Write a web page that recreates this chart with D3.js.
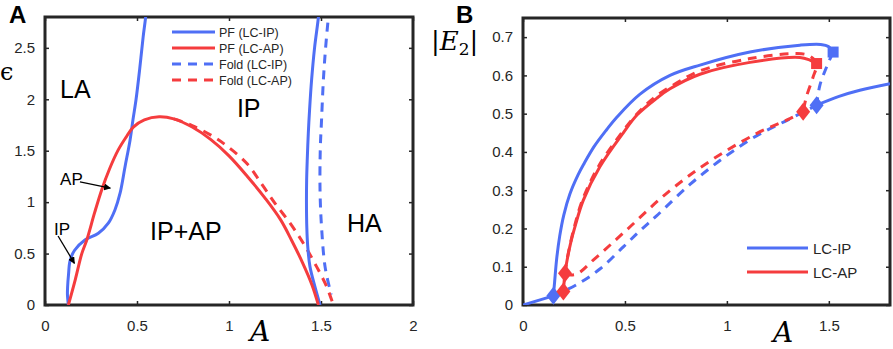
<!DOCTYPE html>
<html>
<head>
<meta charset="utf-8">
<script src="https://cdn.jsdelivr.net/npm/d3@7"></script>
<style>
  body { margin: 0; background: #fff; }
  svg { display: block; font-family: "Liberation Sans", Arial, sans-serif; }
</style>
</head>
<body>
<script>
// ---------- data, panel A (A, epsilon) ----------
const pfIPLeft = [[0.127,0],[0.122,0.1],[0.123,0.18],[0.128,0.3],[0.136,0.43],[0.16,0.53],[0.217,0.632],[0.29,0.697],[0.344,0.795],[0.38,0.924],[0.408,1.087],[0.435,1.345],[0.462,1.6],[0.478,1.8],[0.495,2.0],[0.515,2.3],[0.533,2.6],[0.547,2.8],[0.552,2.9]];
const pfIPRight = [[1.49,2.9],[1.486,2.8],[1.465,2.5],[1.449,2.19],[1.438,1.9],[1.431,1.67],[1.425,1.4],[1.422,1.216],[1.421,1.0],[1.423,0.75],[1.428,0.567],[1.44,0.373],[1.467,0.178],[1.495,0]];
const pfAP = [[0.127,0],[0.165,0.25],[0.2,0.5],[0.227,0.632],[0.27,0.9],[0.308,1.119],[0.35,1.32],[0.398,1.508],[0.44,1.63],[0.48,1.73],[0.54,1.8],[0.62,1.83],[0.7,1.81],[0.8,1.73],[0.9,1.61],[1.0,1.45],[1.1,1.25],[1.2,1.03],[1.28,0.83],[1.34,0.63],[1.4,0.41],[1.45,0.2],[1.486,0]];
const foldIP = [[1.545,2.9],[1.54,2.8],[1.525,2.5],[1.513,2.19],[1.503,1.8],[1.496,1.51],[1.495,1.087],[1.504,0.73],[1.522,0.373],[1.549,0.146],[1.555,0.1]];
const foldAP = [[0.7,1.81],[0.8,1.745],[0.915,1.637],[1.0,1.53],[1.1,1.37],[1.18,1.17],[1.25,0.989],[1.332,0.795],[1.404,0.6],[1.476,0.373],[1.531,0.178],[1.567,0]];
const ticksAx = [0, 0.5, 1, 1.5, 2];
const ticksAy = [0, 0.5, 1, 1.5, 2, 2.5];
const legendA = ["PF (LC-IP)", "PF (LC-AP)", "Fold (LC-IP)", "Fold (LC-AP)"];
const regionsA = [["LA",0.082,2.01],["IP",1.043,1.83],["IP+AP",0.571,0.632],["HA",1.641,0.71]];

// ---------- data, panel B (A, |E2|) ----------
const ipEq = [[0,0],[0.149,0.024]];
const ipStable = [[0.149,0.024],[0.155,0.06],[0.165,0.12],[0.18,0.18],[0.2,0.235],[0.23,0.29],[0.27,0.34],[0.3,0.37],[0.35,0.415],[0.41,0.458],[0.459,0.49],[0.574,0.551],[0.721,0.6],[0.868,0.627],[1.113,0.661],[1.358,0.679],[1.46,0.681],[1.5,0.675],[1.521,0.661]];
const ipUnstTop = [[1.521,0.661],[1.489,0.622],[1.456,0.574],[1.44,0.522]];
const ipUnstLow = [[0.149,0.024],[0.263,0.053],[0.377,0.094],[0.492,0.152],[0.574,0.194],[0.655,0.233],[0.819,0.315],[0.982,0.384],[1.145,0.442],[1.3,0.484],[1.44,0.522]];
const ipUpper = [[1.44,0.522],[1.55,0.545],[1.652,0.561],[1.8,0.578]];
const apStable = [[0.198,0.035],[0.206,0.083],[0.218,0.122],[0.235,0.165],[0.255,0.205],[0.296,0.274],[0.377,0.361],[0.492,0.45],[0.56,0.497],[0.655,0.54],[0.721,0.565],[0.868,0.603],[1.113,0.634],[1.358,0.647],[1.407,0.64],[1.44,0.631]];
const apUnstTop = [[0.206,0.083],[0.22,0.13],[0.25,0.2],[0.29,0.272],[0.37,0.362],[0.48,0.447],[0.55,0.494],[0.639,0.54],[0.753,0.58],[0.868,0.612],[1.113,0.644],[1.342,0.657],[1.40,0.652],[1.44,0.631],[1.423,0.596],[1.39,0.544],[1.374,0.505]];
const apUnstLow = [[0.206,0.08],[0.26,0.08],[0.35,0.12],[0.508,0.196],[0.7,0.29],[0.9,0.37],[1.145,0.448],[1.309,0.487],[1.374,0.505]];
const ipDiamonds = [[0.149,0.024],[1.44,0.522]];
const apDiamonds = [[0.198,0.035],[0.206,0.083],[1.374,0.505]];
const ipSquares = [[1.521,0.661]];
const apSquares = [[1.44,0.631]];
const ticksBx = [0, 0.5, 1, 1.5];
const ticksBy = [0, 0.1, 0.2, 0.3, 0.4, 0.5, 0.6, 0.7];
const legendB = ["LC-IP", "LC-AP"];

const BLUE = "#4f6ff5", RED = "#f53c3e", INK = "#262626";

const svg = d3.select("body").append("svg")
    .attr("width", 893)
    .attr("height", 349);

// flecha para las anotaciones
svg.append("defs").append("marker")
    .attr("id", "arrow")
    .attr("viewBox", "0 0 10 10")
    .attr("refX", 9).attr("refY", 5)
    .attr("markerWidth", 7).attr("markerHeight", 7)
    .attr("markerUnits", "userSpaceOnUse")
    .attr("orient", "auto")
    .append("path").attr("d", "M0,0L10,5L0,10z").attr("fill", "#000");

// escalas
const xA = d3.scaleLinear().domain([0, 2]).range([45, 413]);
const yA = d3.scaleLinear().domain([0, 2.8]).range([305, 17]);
const xB = d3.scaleLinear().domain([0, 1.8]).range([523, 890]);
const yB = d3.scaleLinear().domain([0, 0.75]).range([305, 18]);

function frame(x, y, tx, ty, id) {
    const [x0, x1] = x.range(), [y0, y1] = y.range();
    svg.append("clipPath").attr("id", id)
        .append("rect").attr("x", x0).attr("y", y1).attr("width", x1 - x0).attr("height", y0 - y1);

    const styleAxis = g => {
        g.select(".domain").remove();
        g.selectAll("line").attr("stroke", INK).attr("stroke-width", 1.5);
        g.selectAll("text").attr("fill", INK).attr("font-size", 15);
    };
    svg.append("g").attr("transform", `translate(0,${y0})`)
        .call(d3.axisBottom(x).tickValues(tx).tickFormat(d3.format("")).tickSize(-4).tickPadding(15)).call(styleAxis);
    svg.append("g").attr("transform", `translate(0,${y1})`)
        .call(d3.axisTop(x).tickValues(tx).tickFormat("").tickSize(-4)).call(styleAxis);
    svg.append("g").attr("transform", `translate(${x0},0)`)
        .call(d3.axisLeft(y).tickValues(ty).tickFormat(d3.format("")).tickSize(-4).tickPadding(10)).call(styleAxis);
    svg.append("g").attr("transform", `translate(${x1},0)`)
        .call(d3.axisRight(y).tickValues(ty).tickFormat("").tickSize(-4)).call(styleAxis);

    svg.append("rect")
        .attr("x", x0).attr("y", y1).attr("width", x1 - x0).attr("height", y0 - y1)
        .attr("fill", "none").attr("stroke", INK).attr("stroke-width", 3);
}

function curve(x, y, data, color, dashed, clip) {
    const line = d3.line().x(d => x(d[0])).y(d => y(d[1])).curve(d3.curveCatmullRom.alpha(0.5));
    svg.append("path")
        .datum(data)
        .attr("clip-path", `url(#${clip})`)
        .attr("d", line)
        .attr("fill", "none")
        .attr("stroke", color)
        .attr("stroke-width", 3)
        .attr("stroke-dasharray", dashed ? "9,7" : null);
}

// ---------- Panel A ----------
frame(xA, yA, ticksAx, ticksAy, "clipA");
curve(xA, yA, foldIP, BLUE, true, "clipA");
curve(xA, yA, foldAP, RED, true, "clipA");
curve(xA, yA, pfIPLeft, BLUE, false, "clipA");
curve(xA, yA, pfIPRight, BLUE, false, "clipA");
curve(xA, yA, pfAP, RED, false, "clipA");

// nombres de regiones
svg.selectAll(".region")
    .data(regionsA)
    .enter().append("text")
    .attr("x", d => xA(d[1]))
    .attr("y", d => yA(d[2]))
    .attr("font-size", 25)
    .attr("fill", "#000")
    .text(d => d[0]);

// anotaciones AP / IP con flechas
svg.append("text").attr("x", xA(0.082)).attr("y", yA(1.167)).attr("font-size", 17).text("AP");
svg.append("line")
    .attr("x1", xA(0.19)).attr("y1", yA(1.196)).attr("x2", xA(0.355)).attr("y2", yA(1.136))
    .attr("stroke", "#000").attr("stroke-width", 1.3).attr("marker-end", "url(#arrow)");
svg.append("text").attr("x", xA(0.049)).attr("y", yA(0.681)).attr("font-size", 17).text("IP");
svg.append("line")
    .attr("x1", xA(0.071)).attr("y1", yA(0.671)).attr("x2", xA(0.16)).attr("y2", yA(0.405))
    .attr("stroke", "#000").attr("stroke-width", 1.3).attr("marker-end", "url(#arrow)");

// leyenda A
const legA = svg.append("g");
legendA.forEach((name, i) => {
    const yy = 32 + i * 16;
    legA.append("line")
        .attr("x1", 172).attr("x2", 215).attr("y1", yy).attr("y2", yy)
        .attr("stroke", i % 2 === 0 ? BLUE : RED)
        .attr("stroke-width", 3)
        .attr("stroke-dasharray", i >= 2 ? "9,7" : null);
    legA.append("text")
        .attr("x", 219).attr("y", yy + 4.5)
        .attr("font-size", 12.5).attr("fill", INK)
        .text(name);
});

// etiquetas de ejes A
svg.append("text").attr("x", 260).attr("y", 341).attr("text-anchor", "middle")
    .attr("font-family", "'DejaVu Serif', serif").attr("font-style", "italic").attr("font-size", 28).text("A");
svg.append("text").attr("x", 0).attr("y", 80)
    .attr("font-family", "'DejaVu Serif', serif").attr("font-size", 24).text("ϵ");
svg.append("text").attr("x", 9).attr("y", 23)
    .attr("font-weight", "bold").attr("font-size", 24).text("A");

// ---------- Panel B ----------
frame(xB, yB, ticksBx, ticksBy, "clipB");
curve(xB, yB, ipUnstLow, BLUE, true, "clipB");
curve(xB, yB, apUnstLow, RED, true, "clipB");
curve(xB, yB, ipUnstTop, BLUE, true, "clipB");
curve(xB, yB, ipEq, BLUE, false, "clipB");
curve(xB, yB, ipStable, BLUE, false, "clipB");
curve(xB, yB, ipUpper, BLUE, false, "clipB");
curve(xB, yB, apStable, RED, false, "clipB");
curve(xB, yB, apUnstTop, RED, true, "clipB");

// marcadores: rombos y cuadrados
const diamond = "M0,-9L7,0L0,9L-7,0Z";
function diamonds(data, color) {
    svg.selectAll(null).data(data).enter().append("path")
        .attr("d", diamond)
        .attr("transform", d => `translate(${xB(d[0])},${yB(d[1])})`)
        .attr("fill", color);
}
function squares(data, color) {
    svg.selectAll(null).data(data).enter().append("rect")
        .attr("x", d => xB(d[0]) - 5.5).attr("y", d => yB(d[1]) - 5.5)
        .attr("width", 11).attr("height", 11)
        .attr("fill", color);
}
diamonds(ipDiamonds, BLUE);
diamonds(apDiamonds, RED);
squares(ipSquares, BLUE);
squares(apSquares, RED);

// leyenda B
legendB.forEach((name, i) => {
    const yy = 248 + i * 24;
    svg.append("line")
        .attr("x1", 747).attr("x2", 808).attr("y1", yy).attr("y2", yy)
        .attr("stroke", i === 0 ? BLUE : RED).attr("stroke-width", 3);
    svg.append("text")
        .attr("x", 813).attr("y", yy + 5.5)
        .attr("font-size", 15).attr("fill", INK)
        .text(name);
});

// etiquetas de ejes B
svg.append("text").attr("x", 783).attr("y", 342).attr("text-anchor", "middle")
    .attr("font-family", "'DejaVu Serif', serif").attr("font-style", "italic").attr("font-size", 28).text("A");
const e2 = svg.append("text").attr("x", 431).attr("y", 50)
    .attr("font-family", "'DejaVu Serif', serif").attr("font-size", 26);
e2.append("tspan").text("|");
e2.append("tspan").attr("font-style", "italic").text("E");
e2.append("tspan").attr("font-size", 17).attr("dy", 5).text("2");
e2.append("tspan").attr("dy", -5).text("|");
svg.append("text").attr("x", 456).attr("y", 23)
    .attr("font-weight", "bold").attr("font-size", 24).text("B");
</script>
</body>
</html>
